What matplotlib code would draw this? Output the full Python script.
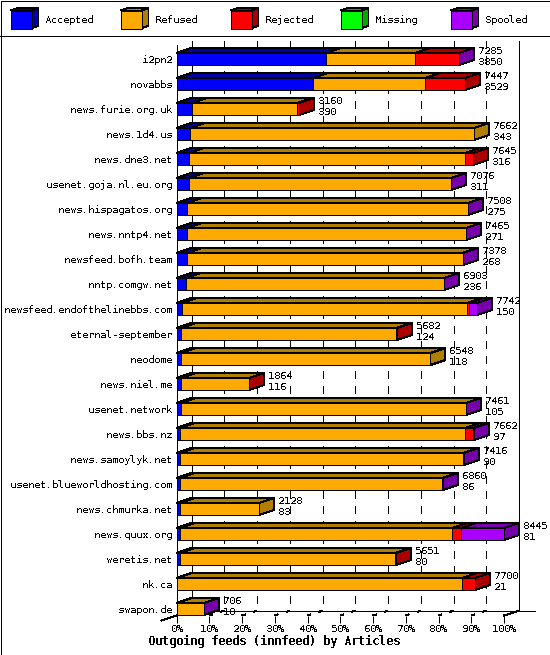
import matplotlib

matplotlib.use("Agg")

import matplotlib.pyplot as plt
from matplotlib.patches import Polygon, Rectangle

hosts = [
    "i2pn2", "novabbs", "news.furie.org.uk", "news.1d4.us", "news.dne3.net",
    "usenet.goja.nl.eu.org", "news.hispagatos.org", "news.nntp4.net",
    "newsfeed.bofh.team", "nntp.comgw.net", "newsfeed.endofthelinebbs.com",
    "eternal-september", "neodome", "news.niel.me", "usenet.network",
    "news.bbs.nz", "news.samoylyk.net", "usenet.blueworldhosting.com",
    "news.chmurka.net", "news.quux.org", "weretis.net", "nk.ca", "swapon.de",
]
totals = [7285, 7447, 3160, 7662, 7645, 7076, 7508, 7465, 7378, 6903, 7742,
          5682, 6548, 1864, 7461, 7662, 7416, 6860, 2128, 8445, 5651, 7700, 706]
accepted = [3850, 3529, 390, 343, 316, 311, 275, 271, 268, 236, 150,
            124, 118, 116, 105, 97, 90, 86, 83, 81, 80, 21, 10]
refused = [2306, 2889, 2709, 7319, 7132, 6763, 7231, 7192, 7108, 6665, 7349,
           5530, 6430, 1745, 7354, 7351, 7291, 6772, 2045, 7031, 5550, 7333, 690]
rejected = [1124, 1029, 61, 0, 197, 0, 0, 0, 0, 0, 50,
            28, 0, 3, 0, 206, 30, 0, 0, 234, 21, 346, 0]
missing = [0] * 23
spooled = [5, 0, 0, 0, 0, 2, 2, 2, 2, 2, 193,
           0, 0, 0, 2, 8, 5, 2, 0, 1099, 0, 0, 6]

series_names = ["Accepted", "Refused", "Rejected", "Missing", "Spooled"]
series = [accepted, refused, rejected, missing, spooled]
face_colors = ["#0000ff", "#ffaa00", "#ff0000", "#00ff00", "#aa00ff"]
dark_colors = ["#0000aa", "#b07f00", "#aa0000", "#00aa00", "#7700aa"]
pct_ticks = [0, 10, 20, 30, 40, 50, 60, 70, 80, 90, 100]

MAX = 8445
W, H = 550, 655
X0, X1 = 176.5, 504.0
ROW0, ROW_STEP = 59.0, 25.0
PX = MAX / (X1 - X0)  # articles per pixel
DX = 15 * PX
DY = -5 / ROW_STEP
BAR_H = 12 / ROW_STEP
LW = 0.72  # one pixel at dpi 100


def row(y_px):
    return (y_px - ROW0) / ROW_STEP


def poly(ax, pts, color, z=3):
    ax.add_patch(Polygon(pts, closed=True, fc=color, ec="black", lw=LW,
                         antialiased=False, clip_on=False, zorder=z))


plt.rcParams["font.family"] = ["DejaVu Sans Mono"]
plt.rcParams["text.hinting"] = "native"
plt.rcParams["text.hinting_factor"] = 1
fig = plt.figure(figsize=(W / 100, H / 100), dpi=100)

# frame, legend and title in pixel coordinates
fr = fig.add_axes([0, 0, 1, 1])
fr.set_xlim(0, W)
fr.set_ylim(H, 0)
fr.axis("off")
fr.add_patch(Rectangle((0.5, 0.5), W - 1, H - 1, fc="white", ec="black", lw=LW, antialiased=False))
fr.plot([0, W], [35.5, 35.5], color="black", lw=LW, antialiased=False)
for k, name in enumerate(series_names):
    x = 10.5 + 110 * k
    y = 10.5
    fr.add_patch(Polygon([(x, y), (x + 7, y - 2.5), (x + 28, y - 2.5), (x + 21, y)],
                         fc=dark_colors[k], ec="black", lw=LW, antialiased=False))
    fr.add_patch(Polygon([(x + 21, y), (x + 28, y - 2.5), (x + 28, y + 15), (x + 21, y + 18)],
                         fc=dark_colors[k], ec="black", lw=LW, antialiased=False))
    fr.add_patch(Rectangle((x, y), 21, 18, fc=face_colors[k], ec="black", lw=LW, antialiased=False))
    fr.text(x + 34, 20, name, fontsize=7.2, va="center", ha="left", antialiased=False)
fr.text(274, 641, "Outgoing feeds (innfeed) by Articles", fontsize=8.4, weight="bold",
        ha="center", va="center", antialiased=False)

# chart axes: x in articles, y in row index
ax = fig.add_axes([X0 / W, 1 - 615.5 / H, (X1 - X0) / W, (615.5 - 46.5) / H])
ax.patch.set_alpha(0)
ax.set_xlim(0, MAX)
ax.set_ylim(row(615.5), row(46.5))
for s in ax.spines.values():
    s.set_visible(False)

tick_x = [p * MAX / 100 for p in pct_ticks]
ax.set_xticks(tick_x, [f"{p}%" for p in pct_ticks])
ax.tick_params(axis="x", length=4.7, width=LW, pad=1.5, labelsize=7.2)
ax.set_yticks([])
for lab in ax.get_xticklabels():
    lab.set_antialiased(False)

top, bot = row(40.5), row(610.7)
front_bot = row(615.5)
for x in tick_x[1:-1]:
    ax.plot([x + DX, x + DX], [top, bot], color="black", lw=LW, ls=(0, (7, 7)),
            antialiased=False, clip_on=False, zorder=1)
    ax.plot([x, x + DX], [front_bot, bot], color="black", lw=LW, ls=(0, (4, 9)),
            antialiased=False, clip_on=False, zorder=1)
# walls
line_kw = dict(color="black", lw=LW, antialiased=False, clip_on=False, zorder=1)
ax.plot([DX, DX], [top, bot], **line_kw)
ax.plot([MAX + DX] * 2, [top, bot], **line_kw)
ax.plot([0, 0], [row(45), row(616)], **{**line_kw, "zorder": 4})
ax.plot([DX, (535 - X0) * PX], [bot, bot], **line_kw)
ax.plot([-DX, DX], [row(620.5), bot], **line_kw)
ax.plot([MAX, MAX + DX], [front_bot, bot], **line_kw)

# bars
for i, host in enumerate(hosts):
    t, b = i - BAR_H / 2, i + BAR_H / 2
    start = 0
    last = 0
    for k, vals in enumerate(series):
        v = vals[i]
        if v == 0:
            continue
        end = start + v
        poly(ax, [(start, t), (start + DX, t + DY), (end + DX, t + DY), (end, t)], dark_colors[k])
        poly(ax, [(start, t), (end, t), (end, b), (start, b)], face_colors[k], z=3.2)
        start = end
        last = k
    poly(ax, [(start, t), (start + DX, t + DY), (start + DX, b + DY), (start, b)], dark_colors[last], z=3.1)

    ax.annotate(str(totals[i]), xy=(start, i), xytext=(19, 8), textcoords="offset pixels",
                fontsize=7.2, va="center", ha="left", antialiased=False, zorder=5, annotation_clip=False)
    ax.annotate(str(accepted[i]), xy=(start, i), xytext=(19, -3), textcoords="offset pixels",
                fontsize=7.2, va="center", ha="left", antialiased=False, zorder=5, annotation_clip=False)
    ax.annotate(host, xy=(0, i), xytext=(-4.5, -1), textcoords="offset pixels",
                fontsize=7.2, va="center", ha="right", antialiased=False, annotation_clip=False)

fig.savefig("out.png", dpi=100)
